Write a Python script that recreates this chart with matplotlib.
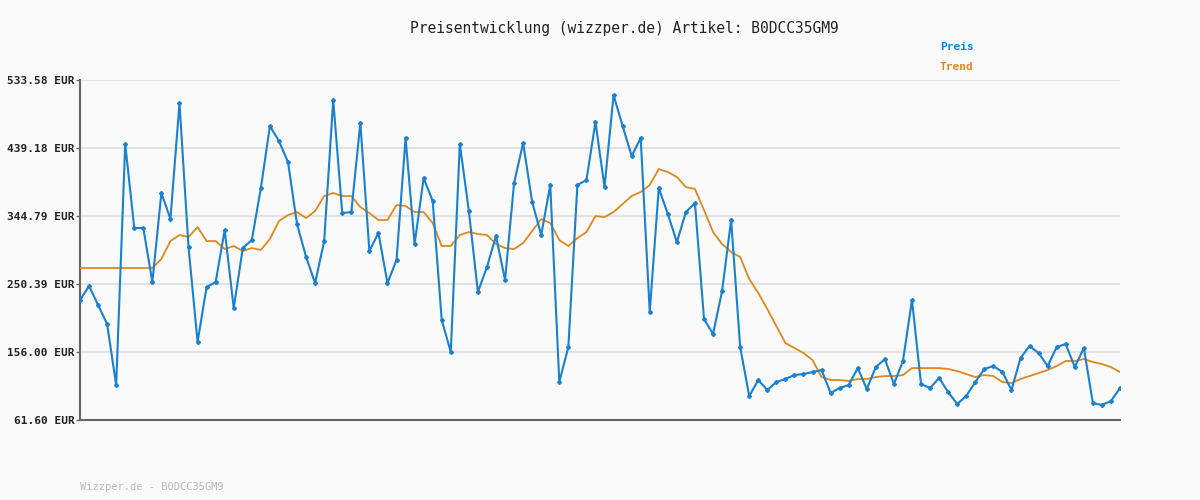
import matplotlib
matplotlib.use("Agg")
import matplotlib.pyplot as plt

# values (EUR)
preis = [
    228.1, 247.6, 221.2, 194.8, 110.2, 444.7, 328.1, 328.1, 253.1, 376.7,
    340.6, 501.6, 301.7, 169.8, 246.2, 253.1, 325.3, 217.0, 300.3, 311.4,
    383.6, 469.7, 448.9, 419.7, 333.6, 287.8, 251.7, 310.0, 505.8, 348.9,
    350.3, 473.8, 296.2, 321.2, 251.7, 283.7, 453.0, 305.9, 397.5, 365.6,
    200.4, 156.0, 444.7, 351.7, 239.2, 274.0, 317.0, 255.9, 390.6, 446.1,
    364.2, 318.4, 387.8, 114.3, 162.9, 387.8, 394.7, 475.2, 385.0, 512.7,
    469.7, 428.0, 453.0, 211.5, 383.6, 347.5, 308.6, 350.3, 362.8, 201.8,
    180.9, 240.6, 339.2, 162.9, 94.9, 117.1, 103.2, 114.3, 118.5, 124.0,
    125.4, 128.2, 131.0, 99.0, 106.0, 110.2, 133.7, 104.6, 135.1, 146.2,
    111.5, 143.5, 228.1, 111.5, 106.0, 119.9, 100.4, 83.8, 94.9, 114.3,
    132.4, 136.5, 128.2, 103.2, 147.6, 164.3, 154.6, 136.5, 162.9, 167.1,
    135.1, 161.5, 85.2, 82.4, 87.9, 106.0,
]
trend = [
    272.6, 272.6, 272.6, 272.6, 272.6, 272.6, 272.6, 272.6, 272.6,
    285.1, 310.0, 318.4, 315.6, 329.5, 310.0, 310.0, 298.9, 303.1, 296.2,
    300.3, 297.6, 312.8, 337.8, 346.1, 350.3, 342.0, 351.7, 372.5, 376.7,
    372.5, 372.5, 357.2, 348.9, 339.2, 339.2, 360.0, 358.6, 350.3, 350.3,
    335.0, 303.1, 303.1, 318.4, 322.5, 319.8, 318.4, 305.9, 300.3, 298.9,
    307.3, 323.9, 340.6, 335.0, 311.4, 303.1, 314.2, 322.5, 344.7, 343.4,
    350.3, 361.4, 372.5, 378.1, 387.8, 410.0, 405.8, 398.9, 385.0, 382.2,
    353.1, 322.5, 305.9, 294.8, 287.8, 257.3, 237.9, 215.6, 192.0, 168.5,
    161.5, 154.6, 144.8, 121.2, 117.1, 117.1, 115.7, 118.5, 118.5, 121.2,
    122.6, 122.6, 124.0, 133.7, 133.7, 133.7, 133.7, 132.4, 129.6, 125.4,
    121.2, 124.0, 122.6, 114.3, 112.9, 118.5, 122.6, 126.8, 131.0, 136.5,
    143.5, 143.5, 146.2, 142.1, 139.3, 135.1, 128.2,
]
yticks = [61.60, 156.00, 250.39, 344.79, 439.18, 533.58]
artikel = "B0DCC35GM9"

BLUE = "#1a80d0"
ORANGE = "#e0881c"
MONO = "DejaVu Sans Mono"

fig = plt.figure(figsize=(12, 5), dpi=100, facecolor="#fafafa")
ax = fig.add_axes([80 / 1200, 80 / 500, 1040 / 1200, 340 / 500])
ax.set_facecolor("#fafafa")

xs = list(range(len(preis)))
ax.plot(xs, trend, color=ORANGE, lw=1.3, zorder=3)
ax.plot(xs, preis, color=BLUE, lw=1.5, marker="P", ms=2.5, zorder=4)

ax.set_xlim(0, len(preis) - 1)
ax.set_ylim(yticks[0], yticks[-1])
ax.set_yticks(yticks)
ax.set_yticklabels([f"{v:.2f} EUR" for v in yticks], family=MONO,
                   fontsize=8, fontweight="bold", color="#222222")
ax.set_xticks([])
ax.tick_params(axis="y", length=3, width=1, color="#666666", pad=1)
ax.grid(axis="y", color="#e2e2e2", lw=1.5, zorder=0)
for s in ("top", "right"):
    ax.spines[s].set_visible(False)
for s in ("left", "bottom"):
    ax.spines[s].set_color("#666666")
    ax.spines[s].set_linewidth(1.5)

fig.text(624 / 1200, 1 - 28 / 500, f"Preisentwicklung (wizzper.de) Artikel: {artikel}",
         ha="center", va="center", family=MONO, fontsize=10.5, color="#222222")
fig.text(940 / 1200, 1 - 47 / 500, "Preis", family=MONO, fontsize=8,
         fontweight="bold", color=BLUE, va="center")
fig.text(940 / 1200, 1 - 67 / 500, "Trend", family=MONO, fontsize=8,
         fontweight="bold", color=ORANGE, va="center")
fig.text(80 / 1200, 1 - 487 / 500, f"Wizzper.de - {artikel}", family=MONO,
         fontsize=7.5, color="#bbbbbb", va="center")

fig.savefig("out.png", dpi=100, facecolor=fig.get_facecolor())
